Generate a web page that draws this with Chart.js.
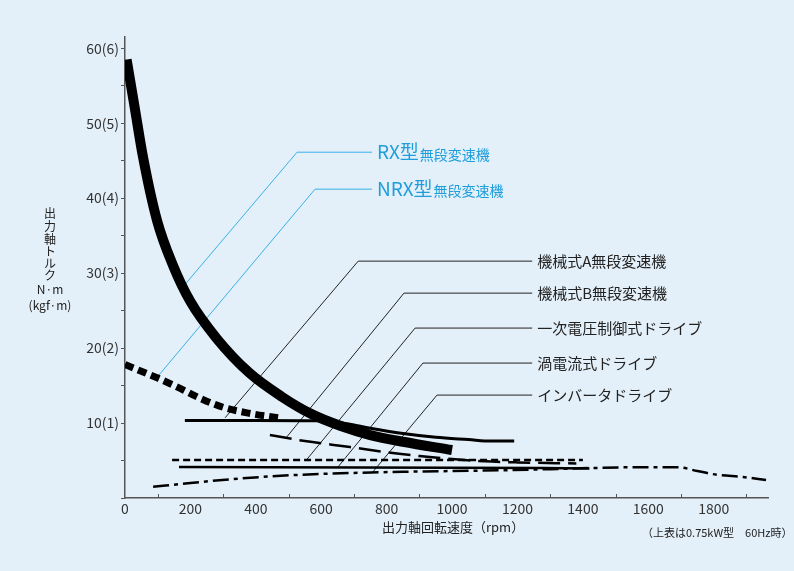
<!DOCTYPE html>
<html>
<head>
<meta charset="utf-8">
<script src="https://cdn.jsdelivr.net/npm/chart.js@4/dist/chart.umd.min.js"></script>
<style>
  html, body { margin: 0; padding: 0; background: #e4f0f9; }
  canvas { display: block; }
</style>
</head>
<body>
<canvas id="chartTorque" width="794" height="571"></canvas>
<script>
// ============================================================
// データ (rpm / N·m)
// ============================================================
const xTickValues = [0, 200, 400, 600, 800, 1000, 1200, 1400, 1600, 1800];
const xMinorTicks = [100, 300, 500, 700, 900, 1100, 1300, 1500, 1700, 1900];
const yTickValues = [0, 5, 10, 15, 20, 25, 30, 35, 40, 45, 50, 55, 60];

const rxRpm      = [5, 30, 55, 98, 147, 200, 280, 380, 480, 570, 660, 750, 850, 1000];
const rxTorque   = [58.5, 52, 45.5, 37, 31, 26.2, 21.3, 16.7, 13.5, 11.2, 9.6, 8.4, 7.5, 6.4];

const nrxRpm     = [0, 50, 100, 170, 230, 300, 380, 470];
const nrxTorque  = [17.8, 16.9, 16.0, 14.6, 13.3, 12.1, 11.3, 10.7];

const mechARpm    = [183, 400, 600, 680, 750, 850, 950, 1050, 1120, 1190];
const mechATorque = [10.35, 10.35, 10.3, 9.9, 9.3, 8.6, 8.1, 7.8, 7.6, 7.6];

const mechBRpm    = [443, 550, 688, 800, 900, 1000, 1100, 1200, 1380];
const mechBTorque = [8.4, 7.6, 6.8, 6.1, 5.6, 5.2, 4.9, 4.75, 4.6];

const voltRpm     = [144, 1400];
const voltTorque  = [5.07, 5.07];

const eddyRpm     = [165, 1000, 1420];
const eddyTorque  = [4.12, 4.05, 3.95];

const invRpm      = [86, 200, 350, 535, 700, 850, 1000, 1150, 1300, 1430, 1550, 1690, 1750, 1810, 1890, 1960];
const invTorque   = [1.5, 2.0, 2.6, 3.1, 3.35, 3.5, 3.6, 3.7, 3.85, 4.0, 4.1, 4.1, 3.6, 3.1, 2.8, 2.4];

// 引出線: 先端 → 角 → 終端
const leaderNames = ['RX型', 'NRX型', '機械式A無段変速機', '機械式B無段変速機', '一次電圧制御式ドライブ', '渦電流式ドライブ', 'インバータドライブ'];
const leaderTipRpm    = [174, 98, 306, 492, 557, 651, 755];
const leaderTipTorque = [28.0, 16.1, 10.7, 8.0, 5.2, 4.13, 3.33];
const leaderCornerRpm = [526, 581, 713, 853, 887, 911, 954];
const leaderCornerTq  = [46.13, 41.2, 31.6, 27.33, 22.67, 18.0, 13.73];
const leaderEndRpm    = [755, 755, 1245, 1245, 1245, 1245, 1245];
const leaderSuffix    = ['無段変速機', '無段変速機', '', '', '', '', ''];
const leaderBlue      = [true, true, false, false, false, false, false];

const yTitleLines = ['出', '力', '軸', 'ト', 'ル', 'ク', 'N·m', '(kgf·m)'];
const xTitle = '出力軸回転速度（rpm）';
const footNote = '（上表は0.75kW型　60Hz時）';

// ============================================================
// 設定
// ============================================================
const FONT = '"Noto Sans CJK JP", "Noto Sans", sans-serif';
const BG = '#e4f0f9';
const BLUE_LINE = '#38b1e6';
const BLUE_TEXT = '#1f9edb';

const toXY = (xs, ys) => xs.map((x, i) => ({ x: x, y: ys[i] }));

const curve = (data, width, dash) => ({
    data: data,
    borderColor: '#000',
    borderWidth: width,
    borderDash: dash || [],
    pointRadius: 0,
    cubicInterpolationMode: 'monotone',
    fill: false
});

let datasets = [
    curve(toXY(rxRpm, rxTorque), 10),
    curve(toXY(nrxRpm, nrxTorque), 7, [9, 5]),
    curve(toXY(mechARpm, mechATorque), 3),
    curve(toXY(mechBRpm, mechBTorque), 2.5, [22, 8]),
    curve(toXY(voltRpm, voltTorque), 2.5, [7, 4]),
    curve(toXY(eddyRpm, eddyTorque), 2.5),
    curve(toXY(invRpm, invTorque), 2.5, [16, 5, 4, 5])
];

leaderNames.forEach((n, i) => {
    datasets.push({
        data: [
            { x: leaderTipRpm[i], y: leaderTipTorque[i] },
            { x: leaderCornerRpm[i], y: leaderCornerTq[i] },
            { x: leaderEndRpm[i], y: leaderCornerTq[i] }
        ],
        borderColor: leaderBlue[i] ? BLUE_LINE : '#222',
        borderWidth: 1,
        pointRadius: 0,
        tension: 0,
        fill: false
    });
});

// 背景・ラベル描画プラグイン
const decoPlugin = {
    id: 'deco',
    beforeDraw(chart) {
        const c = chart.ctx;
        c.save();
        c.fillStyle = BG;
        c.fillRect(0, 0, chart.width, chart.height);
        c.restore();
    },
    afterDraw(chart) {
        const c = chart.ctx;
        const sx = chart.scales.x, sy = chart.scales.y;
        const area = chart.chartArea;
        c.save();

        // x軸 補助目盛 (内向き)
        c.strokeStyle = '#555';
        c.lineWidth = 1;
        xMinorTicks.forEach(v => {
            let px = Math.round(sx.getPixelForValue(v)) + 0.5;
            c.beginPath();
            c.moveTo(px, area.bottom);
            c.lineTo(px, area.bottom - 4);
            c.stroke();
        });

        // 引出線ラベル
        c.textBaseline = 'middle';
        c.textAlign = 'left';
        leaderNames.forEach((n, i) => {
            let px = sx.getPixelForValue(leaderEndRpm[i]) + 5;
            let py = sy.getPixelForValue(leaderCornerTq[i]);
            if (leaderBlue[i]) {
                c.fillStyle = BLUE_TEXT;
                c.font = '19px ' + FONT;
                c.fillText(n, px, py);
                let w = c.measureText(n).width;
                c.font = '14px ' + FONT;
                c.fillText(leaderSuffix[i], px + w + 1, py + 2);
            } else {
                c.fillStyle = '#222';
                c.font = '15px ' + FONT;
                c.fillText(n, px, py);
            }
        });

        // y軸タイトル (縦書き)
        c.fillStyle = '#222';
        c.textAlign = 'center';
        c.font = '12px ' + FONT;
        const yPos = [213, 226, 239, 251, 263, 275, 289, 305];
        yTitleLines.forEach((t, i) => c.fillText(t, 50, yPos[i]));

        // x軸タイトル・注記
        c.textAlign = 'left';
        c.font = '13px ' + FONT;
        c.fillText(xTitle, 382, 527);
        c.font = '11px ' + FONT;
        c.fillText(footNote, 642, 533);

        c.restore();
    }
};

new Chart(document.getElementById('chartTorque').getContext('2d'), {
    type: 'line',
    data: { datasets: datasets },
    options: {
        responsive: false,
        animation: false,
        events: [],
        layout: { padding: { left: 0, right: 26, top: 37, bottom: 0 } },
        plugins: { legend: { display: false }, tooltip: { enabled: false } },
        scales: {
            x: {
                type: 'linear',
                min: 0,
                max: 1966,
                afterFit: (s) => { s.height = 73; },
                afterBuildTicks: (s) => { s.ticks = xTickValues.map(v => ({ value: v })); },
                grid: { display: false, drawTicks: false, tickLength: 0 },
                border: { display: true, color: '#555', width: 1.5 },
                ticks: {
                    maxRotation: 0,
                    autoSkip: false,
                    padding: 2,
                    color: '#333',
                    font: { family: FONT, size: 14 },
                    callback: (v) => String(v)
                }
            },
            y: {
                type: 'linear',
                min: 0,
                max: 61.5,
                afterFit: (s) => { s.width = 125; },
                afterBuildTicks: (s) => { s.ticks = yTickValues.map(v => ({ value: v })); },
                grid: { drawOnChartArea: false, drawTicks: true, tickLength: 4, color: '#555' },
                border: { display: true, color: '#555', width: 1.5 },
                ticks: {
                    autoSkip: false,
                    padding: 2,
                    color: '#333',
                    font: { family: FONT, size: 14 },
                    callback: (v) => (v > 0 && v % 10 === 0) ? v + '(' + (v / 10) + ')' : ''
                }
            }
        }
    },
    plugins: [decoPlugin]
});
</script>
</body>
</html>
